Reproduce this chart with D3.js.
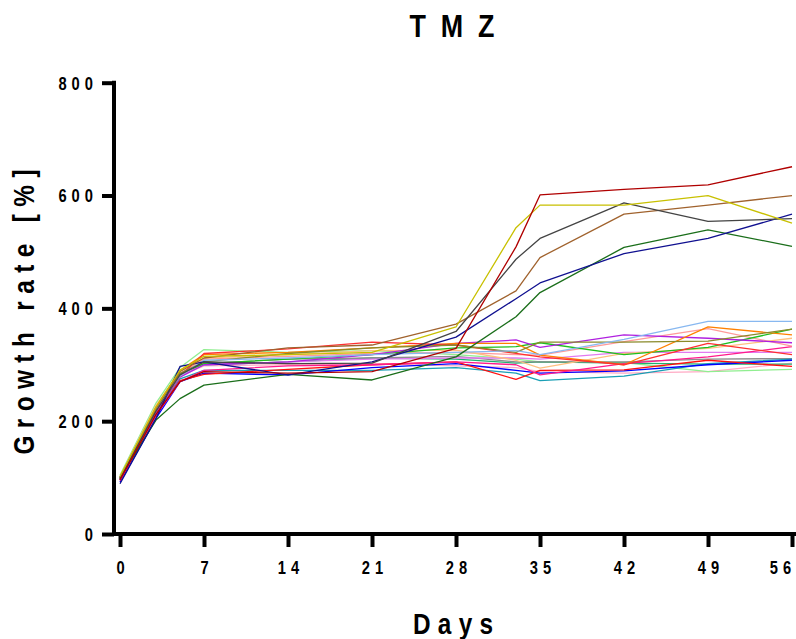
<!DOCTYPE html>
<html>
<head>
<meta charset="utf-8">
<script src="https://cdn.jsdelivr.net/npm/d3@7"></script>
<style>
  html, body { margin: 0; padding: 0; background: #fff; }
  svg { display: block; }
  .lbl { font-family: "Liberation Sans Narrow", "Arial Narrow", "Liberation Sans", Arial, sans-serif; font-weight: bold; fill: #000; }
</style>
</head>
<body>
<svg id="chart" width="796" height="639"></svg>
<script>
// ---- data ----
const title = "TMZ";
const xTitle = "Days";
const yTitle = "Growth rate [%]";
const days = [0, 3, 5, 7, 14, 21, 28, 33, 35, 42, 49, 56];
const xTicks = [0, 7, 14, 21, 28, 35, 42, 49, 56];
const yTicks = [0, 200, 400, 600, 800];

// high-growth series
const darkRed   = [96, 212, 270, 288, 285, 288, 329, 509, 601, 611, 619, 651];
const yellow    = [102, 225, 290, 315, 318, 322, 367, 543, 583, 583, 600, 551];
const darkGray  = [98, 218, 282, 305, 302, 303, 359, 487, 524, 587, 554, 559];
const brown     = [100, 222, 288, 312, 330, 335, 372, 431, 490, 567, 583, 600];
const navy      = [89, 205, 297, 305, 282, 305, 349, 417, 445, 497, 524, 567];
const darkGreen = [100, 202, 240, 264, 283, 273, 314, 385, 428, 508, 539, 510];
// plateau series
const lightBlue   = [100, 222, 280, 308, 312, 318, 322, 325, 318, 345, 377, 377];
const olive       = [98, 220, 285, 305, 320, 330, 335, 322, 340, 340, 342, 363];
const orange      = [100, 225, 290, 318, 322, 330, 338, 338, 317, 300, 367, 353];
const purple      = [96, 215, 278, 300, 305, 318, 338, 344, 331, 353, 347, 339];
const lightOrange = [102, 228, 288, 312, 318, 325, 326, 308, 294, 320, 329, 347];
const salmon      = [100, 222, 285, 310, 315, 320, 322, 318, 317, 341, 364, 333];
const red         = [98, 218, 280, 320, 328, 340, 335, 320, 314, 300, 338, 318];
const deepPink    = [95, 210, 270, 290, 298, 300, 305, 300, 282, 302, 314, 332];
const violet      = [98, 218, 282, 300, 305, 310, 312, 312, 310, 322, 322, 322];
const gray        = [100, 220, 283, 302, 310, 312, 315, 305, 305, 305, 310, 311];
const blue        = [92, 205, 270, 285, 282, 295, 302, 290, 285, 289, 300, 308];
const teal        = [96, 212, 275, 290, 290, 290, 295, 285, 272, 280, 302, 310];
const green       = [100, 222, 284, 302, 310, 318, 330, 332, 339, 318, 331, 363];
const seaGreen    = [98, 220, 282, 300, 305, 312, 310, 303, 305, 303, 301, 301];
const lightGreen  = [104, 232, 295, 327, 322, 325, 318, 310, 305, 304, 288, 292];
const red2        = [95, 212, 272, 283, 292, 300, 305, 274, 290, 291, 308, 297];
const lightPink   = [100, 222, 280, 298, 300, 302, 298, 295, 288, 285, 288, 303];

const seriesList = [
  [lightPink, "#ffaac4"], [lightGreen, "#90ee90"], [seaGreen, "#20b070"], [gray, "#8c8c8c"],
  [violet, "#e27af0"], [teal, "#1a9fb5"], [blue, "#0000ff"], [red2, "#ff1010"],
  [deepPink, "#ff1a8c"], [salmon, "#ff9a9a"], [lightOrange, "#ffc080"], [green, "#1fbf1f"],
  [purple, "#b020e0"], [orange, "#ff8000"], [red, "#ff3030"], [olive, "#8a8a2a"],
  [lightBlue, "#88b8f0"], [darkGreen, "#1a6e1a"], [navy, "#101090"], [brown, "#a0622d"],
  [darkGray, "#444444"], [yellow, "#c8c000"], [darkRed, "#b00000"]
];

// ---- chart ----
const svg = d3.select("#chart");
const x = d3.scaleLinear().domain([0, 56]).range([120, 792]);
const y = d3.scaleLinear().domain([0, 800]).range([534, 82.7]);

const line = d3.line().x((d, i) => x(days[i])).y(d => y(d));

svg.append("g").selectAll("path").data(seriesList).join("path")
  .attr("d", d => line(d[0]))
  .attr("fill", "none")
  .attr("stroke", d => d[1])
  .attr("stroke-width", 1.3)
  .attr("stroke-linejoin", "round");

// condensed look for labels
const sx = 0.84;
const ls = 6;   // letter spacing before horizontal squeeze
const axW = 4;

// y axis
const yAxis = d3.axisLeft(y).tickValues(yTicks).tickSize(12).tickPadding(9).tickFormat(d3.format("d"));
const gy = svg.append("g").attr("transform", "translate(114,0)").call(yAxis);
gy.select(".domain").attr("d", `M0,${y(800) - 2}V${y(0) + 2}`).attr("stroke", "#000").attr("stroke-width", axW).attr("stroke-linecap", "butt");
gy.selectAll(".tick line").attr("stroke", "#000").attr("stroke-width", axW);
gy.selectAll(".tick text").attr("class", "lbl").attr("font-size", 17.5).attr("letter-spacing", ls)
  .attr("x", (-21) / sx + ls).attr("dy", "0.36em").attr("transform", `scale(${sx},1)`);

// x axis
const xAxis = d3.axisBottom(x).tickValues(xTicks).tickSize(13).tickPadding(15).tickFormat(d3.format("d"));
const gx = svg.append("g").attr("transform", `translate(0,${y(0)})`).call(xAxis);
gx.select(".domain").attr("d", `M112,0H796`).attr("stroke", "#000").attr("stroke-width", axW);
gx.selectAll(".tick line").attr("stroke", "#000").attr("stroke-width", axW);
gx.selectAll(".tick text").attr("class", "lbl").attr("font-size", 17.5).attr("letter-spacing", ls)
  .attr("x", d => (d === 56 ? -12 / sx : 0) + ls / 2).attr("transform", `scale(${sx},1)`);

// titles
svg.append("text").attr("class", "lbl").attr("transform", `translate(452,37) scale(${sx},1)`)
  .attr("text-anchor", "middle").attr("font-size", 32)
  .attr("textLength", 85 / sx).attr("lengthAdjust", "spacing").text(title);
svg.append("text").attr("class", "lbl").attr("transform", `translate(453,634) scale(${sx},1)`)
  .attr("text-anchor", "middle").attr("font-size", 29)
  .attr("textLength", 80 / sx).attr("lengthAdjust", "spacing").text(xTitle);
svg.append("text").attr("class", "lbl")
  .attr("transform", `translate(34,312) rotate(-90) scale(${sx},1)`)
  .attr("text-anchor", "middle").attr("font-size", 29)
  .attr("textLength", 285 / sx).attr("lengthAdjust", "spacing").text(yTitle);
</script>
</body>
</html>
